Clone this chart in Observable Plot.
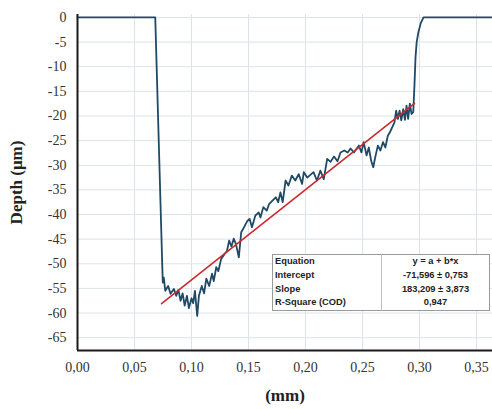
<!DOCTYPE html>
<html>
<head>
<meta charset="utf-8">
<script src="https://cdn.jsdelivr.net/npm/d3@7"></script>
<script src="https://cdn.jsdelivr.net/npm/@observablehq/plot@0.6"></script>
<style>
  html, body { margin: 0; padding: 0; background: #fff; }
  #wrap { position: relative; width: 492px; height: 409px; }
  #wrap svg { font-family: "Liberation Serif", serif; }
  #wrap svg g[aria-label="y-axis label"] text,
  #wrap svg g[aria-label="x-axis label"] text { font-weight: bold !important; font-size: 17px !important; fill: #222; }
  #fit { position: absolute; left: 272px; top: 254px; width: 218px; border: 1px solid #9a9a9a;
         border-collapse: collapse; background: #fff; font-family: "Liberation Sans", Arial, sans-serif;
         font-size: 9.3px; font-weight: bold; color: #222; }
  #fit td { height: 13.7px; padding: 0 2px; line-height: 13px; }
  #fit td.v { text-align: center; border-left: 1px solid #bdbdbd; width: 103px; }
</style>
</head>
<body>
<div id="wrap"></div>
<script>
// ---- data ----
const profileX = [0, 0.02, 0.04, 0.06, 0.0682, 0.0743, 0.0748, 0.0757, 0.077, 0.0795, 0.0816, 0.0845, 0.0866, 0.0885,
  0.0904, 0.0922, 0.094, 0.096, 0.0977, 0.1, 0.1015, 0.103, 0.105, 0.1065, 0.109, 0.111, 0.113, 0.1155, 0.118,
  0.1195, 0.1217, 0.1235, 0.126, 0.129, 0.131, 0.133, 0.135, 0.137, 0.139, 0.1415, 0.1436, 0.146, 0.149, 0.151,
  0.153, 0.156, 0.159, 0.1605, 0.163, 0.166, 0.168, 0.171, 0.174, 0.176, 0.178, 0.18, 0.1825, 0.185, 0.188,
  0.191, 0.194, 0.197, 0.1985, 0.2015, 0.204, 0.207, 0.21, 0.213, 0.216, 0.219, 0.222, 0.225, 0.228, 0.2307,
  0.234, 0.237, 0.2395, 0.2424, 0.2468, 0.249, 0.251, 0.2535, 0.2555, 0.2576, 0.2594, 0.2615, 0.2635, 0.2657,
  0.268, 0.27, 0.2722, 0.274, 0.276, 0.278, 0.2795, 0.281, 0.2825, 0.284, 0.2857, 0.2872, 0.2886, 0.29, 0.2915,
  0.293, 0.2945, 0.2955, 0.2965, 0.2975, 0.299, 0.301, 0.3035, 0.33, 0.364];
const profileDepth = [0, 0, 0, 0, 0, -50, -53.8, -52.8, -55.5, -54.5, -56.1, -55.1, -56.5, -55.3,
  -57.5, -56, -58.5, -56.5, -59, -57, -58, -55.5, -60.6, -56.5, -54.5, -56, -53, -54.5, -52,
  -53.5, -50.7, -51.5, -49, -48, -47.5, -45.3, -46.5, -44.9, -46, -48.7, -43.6, -42.6, -41.3, -40.9,
  -42.6, -40.2, -39.6, -40.6, -38.5, -39.2, -37.9, -37.2, -36.5, -37.5, -35.5, -37.5, -33.1, -34.1, -32.1,
  -33.1, -31.8, -33.8, -31.4, -32.5, -32, -31.4, -33.1, -31.1, -32.8, -28.7, -29.3, -28.2, -29.2, -27.4,
  -27, -27.4, -26.6, -27.4, -26, -27.4, -25.3, -28, -26.4, -29.1, -30.4, -28, -26, -27,
  -25.3, -26.4, -24, -23.3, -22.3, -21.3, -18.9, -20.6, -18.9, -20.9, -18.6, -20.8, -17.9, -20.6, -17.5,
  -19.6, -19.2, -14, -8, -5, -3, -1.2, 0, 0, 0];
const fitIntercept = -71.596;
const fitSlope = 183.209;
const fitRange = [0.0737, 0.2956];
const xTicks = [0, 0.05, 0.10, 0.15, 0.20, 0.25, 0.30, 0.35];
const yTicks = [0, -5, -10, -15, -20, -25, -30, -35, -40, -45, -50, -55, -60, -65];
const tableLabels = ["Equation", "Intercept", "Slope", "R-Square (COD)"];
const tableValues = ["y = a + b*x", "-71,596 ± 0,753", "183,209 ± 3,873", "0,947"];

const profile = profileX.map((x, i) => ({x, d: profileDepth[i]}));
const fit = fitRange.map(x => ({x, d: fitIntercept + fitSlope * x}));

const chart = Plot.plot({
  width: 492,
  height: 409,
  marginLeft: 77,
  marginRight: 0,
  marginTop: 14,
  marginBottom: 59,
  style: {fontFamily: "Liberation Serif, serif", fontSize: "14px", color: "#333"},
  x: {domain: [0, 0.364], ticks: xTicks, tickSize: 0, tickPadding: 12,
      tickFormat: d => d.toFixed(2).replace(".", ","), label: "(mm)", labelAnchor: "center", labelOffset: 50, labelArrow: "none"},
  y: {domain: [-67.6, 0.6], ticks: yTicks, tickSize: 0, tickPadding: 11,
      tickFormat: d => String(d), label: "Depth (μm)", labelAnchor: "center", labelOffset: 68, labelArrow: "none"},
  marks: [
    Plot.ruleX(xTicks, {stroke: "#dde3ea", strokeWidth: 1}),
    Plot.ruleY(yTicks, {stroke: "#dde3ea", strokeWidth: 1}),
    Plot.line(profile, {x: "x", y: "d", stroke: "#1f4a66", strokeWidth: 1.8}),
    Plot.line(fit, {x: "x", y: "d", stroke: "#cc2a2e", strokeWidth: 1.6}),
    Plot.ruleX([0], {stroke: "#1a1a1a", strokeWidth: 2}),
    Plot.ruleY([-67.6], {stroke: "#1a1a1a", strokeWidth: 2})
  ]
});
const wrap = document.getElementById("wrap");
wrap.appendChild(chart);

const table = document.createElement("table");
table.id = "fit";
tableLabels.forEach((lab, i) => {
  const tr = document.createElement("tr");
  const a = document.createElement("td"); a.textContent = lab;
  const b = document.createElement("td"); b.className = "v"; b.textContent = tableValues[i];
  tr.appendChild(a); tr.appendChild(b); table.appendChild(tr);
});
wrap.appendChild(table);
</script>
</body>
</html>
